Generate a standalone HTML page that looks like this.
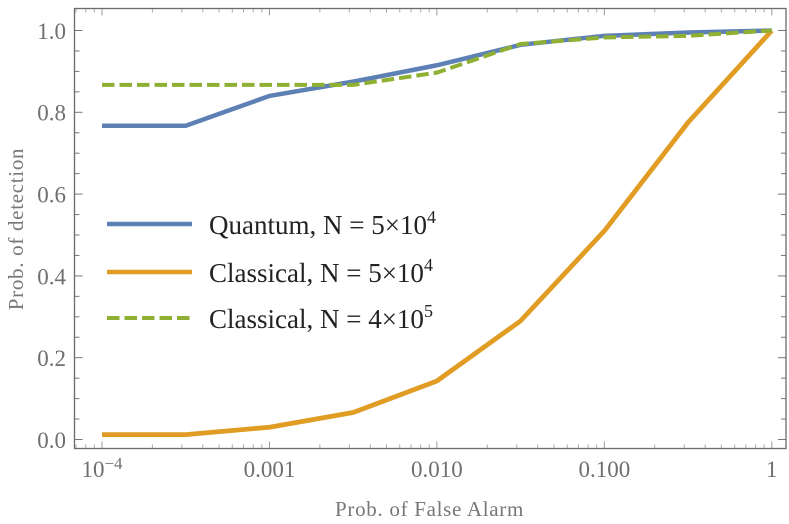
<!DOCTYPE html>
<html>
<head>
<meta charset="utf-8">
<style>
html,body{margin:0;padding:0;background:#fff;}
svg{display:block;}
text{font-family:"Liberation Serif",serif;}
</style>
</head>
<body>
<svg id="chart" width="789" height="524" viewBox="0 0 789 524" xmlns="http://www.w3.org/2000/svg">
  <g id="ticks"></g>
  <g id="series"></g>
  <rect x="74.5" y="8.5" width="711.5" height="440" fill="none" stroke="#6a6a6a" stroke-width="1.3"/>
  <g id="tick-labels"></g>
  <text x="429.5" y="516" text-anchor="middle" font-size="21" letter-spacing="0.7" fill="#777">Prob. of False Alarm</text>
  <text transform="translate(23,229) rotate(-90)" text-anchor="middle" font-size="21" letter-spacing="0.7" fill="#777">Prob. of detection</text>
  <g>
    <line x1="107" y1="224" x2="192" y2="224" stroke="#5e81b5" stroke-width="4.5"/>
    <text x="209" y="234" font-size="27" fill="#222">Quantum, N = 5×10<tspan font-size="18" dy="-11">4</tspan></text>
    <line x1="107" y1="272" x2="192" y2="272" stroke="#e19c24" stroke-width="4.5"/>
    <text x="209" y="282" font-size="27" fill="#222">Classical, N = 5×10<tspan font-size="18" dy="-11">4</tspan></text>
    <line x1="107" y1="318" x2="190" y2="318" stroke="#8fb032" stroke-width="4" stroke-dasharray="12.5 5"/>
    <text x="209" y="328" font-size="27" fill="#222">Classical, N = 4×10<tspan font-size="18" dy="-11">5</tspan></text>
  </g>
</svg>
<script>
var falseAlarm = [0.0001, 0.000316, 0.001, 0.00316, 0.01, 0.0316, 0.1, 0.316, 1];
var quantum5e4 = [0.767, 0.767, 0.84, 0.875, 0.915, 0.965, 0.987, 0.995, 1.0];
var classical5e4 = [0.012, 0.012, 0.03, 0.066, 0.143, 0.29, 0.51, 0.775, 1.0];
var classical4e5 = [0.867, 0.867, 0.867, 0.867, 0.897, 0.967, 0.983, 0.987, 1.0];
var yTickValues = [0, 0.2, 0.4, 0.6, 0.8, 1.0];
var yTickLabels = ["0.0", "0.2", "0.4", "0.6", "0.8", "1.0"];
var xTickValues = [0.0001, 0.001, 0.01, 0.1, 1];
var xTickLabels = ["10-4", "0.001", "0.010", "0.100", "1"];

var NS = "http://www.w3.org/2000/svg";
var LEFT = 74.5, RIGHT = 786, TOP = 8.5, BOTTOM = 448.5;
function xScale(v) { return 102 + (Math.log10(v) + 4) * 167.45; }
function yScale(v) { return 439.5 - v * 409; }

function makeTick(parent, x1, y1, x2, y2, color, width) {
  var l = document.createElementNS(NS, "line");
  
  
  l.setAttribute("x1", x1);
  l.setAttribute("y1", y1);
  l.setAttribute("x2", x2);
  l.setAttribute("y2", y2);
  l.setAttribute("stroke", color);
  l.setAttribute("stroke-width", width);
  parent.appendChild(l);
}

var tickGroup = document.getElementById("ticks");
// y ticks every 0.05, major at every 0.2
for (var i = 0; i <= 20; i++) {
  var yv = i * 0.05;
  var py = yScale(yv);
  var major = i % 4 === 0;
  var len = major ? 8 : 5;
  makeTick(tickGroup, LEFT, py, LEFT + len, py, "#777", 1);
  makeTick(tickGroup, RIGHT - len, py, RIGHT, py, "#777", 1);
}
// x ticks: log-spaced minor ticks, major at decades
for (var d = -5; d <= 0; d++) {
  for (var m = 1; m <= 9; m++) {
    var xv = m * Math.pow(10, d);
    var px = xScale(xv);
    if (px < LEFT + 0.5 || px > RIGHT - 0.5) continue;
    var xMajor = m === 1 && d >= -4;
    var xLen = xMajor ? 7 : 4;
    var col = xMajor ? "#999" : "#aaa";
    makeTick(tickGroup, px, BOTTOM - xLen, px, BOTTOM, col, 1);
    makeTick(tickGroup, px, TOP, px, TOP + xLen, col, 1);
  }
}

function drawSeries(values, color, width, dash, name) {
  var pts = [];
  for (var j = 0; j < values.length; j++) {
    pts.push(xScale(falseAlarm[j]).toFixed(2) + "," + yScale(values[j]).toFixed(2));
  }
  var p = document.createElementNS(NS, "polyline");
  
  
  p.setAttribute("points", pts.join(" "));
  p.setAttribute("fill", "none");
  p.setAttribute("stroke", color);
  p.setAttribute("stroke-width", width);
  p.setAttribute("stroke-linejoin", "round");
  if (dash) p.setAttribute("stroke-dasharray", dash);
  document.getElementById("series").appendChild(p);
}
drawSeries(quantum5e4, "#5e81b5", 4.5, null, "line-quantum-5e4");
drawSeries(classical5e4, "#e19c24", 4.8, null, "line-classical-5e4");
drawSeries(classical4e5, "#8fb032", 4, "12.5 5", "line-classical-4e5");

var labelGroup = document.getElementById("tick-labels");
function makeLabel(x, y, anchor, str, name) {
  var t = document.createElementNS(NS, "text");
  
  
  t.setAttribute("x", x);
  t.setAttribute("y", y);
  t.setAttribute("text-anchor", anchor);
  t.setAttribute("font-size", "23");
  t.setAttribute("fill", "#6f6f6f");
  var parts = str.match(/^10(-\d+)$/);
  if (parts) {
    t.appendChild(document.createTextNode("10"));
    var s = document.createElementNS(NS, "tspan");
    s.setAttribute("font-size", "17");
    s.setAttribute("dy", "-8");
    s.textContent = parts[1].replace("-", "\u2212");
    t.appendChild(s);
  } else {
    t.textContent = str;
  }
  labelGroup.appendChild(t);
}
yTickValues.forEach(function (v, k) {
  makeLabel(66, yScale(v) + 8.4, "end", yTickLabels[k], "y-tick-label");
});
xTickValues.forEach(function (v, k) {
  makeLabel(xScale(v), 477, "middle", xTickLabels[k], "x-tick-label");
});
</script>
</body>
</html>
